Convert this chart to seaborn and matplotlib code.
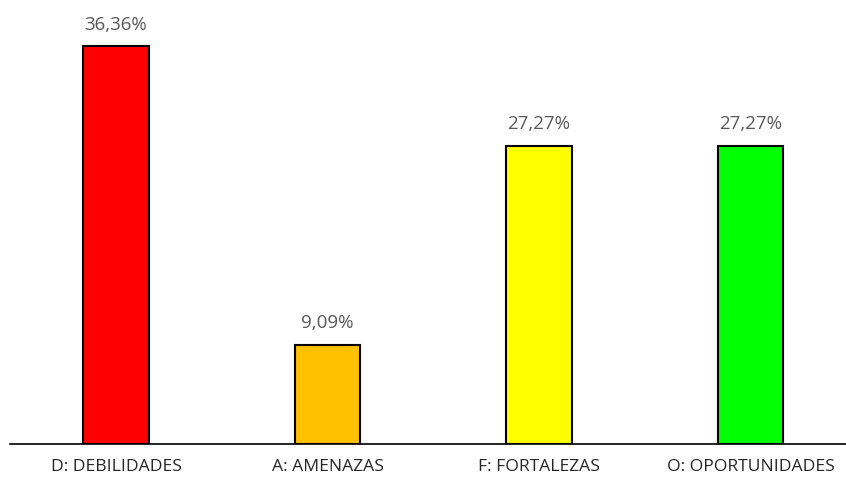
import matplotlib
matplotlib.use("Agg")
import matplotlib.pyplot as plt
import seaborn as sns
import pandas as pd

categories = ["D: DEBILIDADES", "A: AMENAZAS", "F: FORTALEZAS", "O: OPORTUNIDADES"]
values = [36.36, 9.09, 27.27, 27.27]
value_labels = ["36,36%", "9,09%", "27,27%", "27,27%"]
colors = ["#FF0000", "#FFC000", "#FFFF00", "#00FF00"]

sns.set_theme(style="white")
plt.rcParams['font.family'] = ['Open Sans', 'DejaVu Sans']

df = pd.DataFrame({"cat": categories, "val": values})

fig = plt.figure(figsize=(8.46, 4.80), dpi=100)
ax = fig.add_axes([10/846, 36/480, 836/846, 437.8/480])
sns.barplot(data=df, x="cat", y="val", hue="cat", palette=colors, width=0.31,
            edgecolor="black", linewidth=1.5, saturation=1, legend=False, ax=ax)

ax.set_xlim(-0.5012, 3.4515)
ax.set_ylim(0, 40)
for i, (v, lab) in enumerate(zip(values, value_labels)):
    ax.text(i, v + 1.1, lab, ha="center", va="bottom", fontsize=13.5, color="#595959")

for s in ["top", "right", "left"]:
    ax.spines[s].set_visible(False)
ax.spines["bottom"].set_color("black")
ax.spines["bottom"].set_linewidth(1.2)
ax.set_yticks([])
ax.set_xlabel("")
ax.set_ylabel("")
ax.tick_params(axis="x", length=0, pad=11, labelsize=12.6, labelcolor="#262626")

fig.savefig("out.png", dpi=100, facecolor="white")
